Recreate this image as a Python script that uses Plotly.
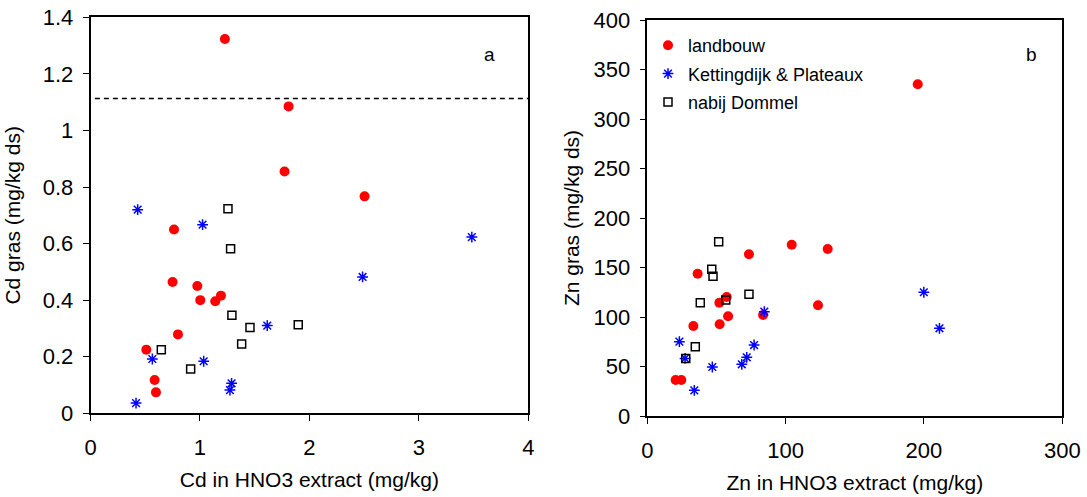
import plotly.graph_objects as go

# ---- data: panel a (Cd) ----
cd_land_x = [1.228, 1.81, 1.773, 2.504, 0.763, 0.750, 0.976, 1.192, 1.003, 1.140, 0.799, 0.510, 0.586, 0.598]
cd_land_y = [1.323, 1.085, 0.855, 0.767, 0.650, 0.464, 0.450, 0.416, 0.400, 0.396, 0.279, 0.225, 0.118, 0.074]
cd_ket_x = [0.431, 1.024, 3.484, 2.486, 1.615, 0.565, 1.034, 1.289, 1.274, 0.416]
cd_ket_y = [0.720, 0.667, 0.623, 0.482, 0.310, 0.192, 0.184, 0.106, 0.082, 0.036]
cd_dom_x = [1.256, 1.280, 1.292, 1.457, 1.898, 1.381, 0.647, 0.915]
cd_dom_y = [0.723, 0.582, 0.347, 0.303, 0.313, 0.245, 0.225, 0.157]
cd_limit = 1.113

# ---- data: panel b (Zn) ----
zn_land_x = [195.5, 104.4, 130.4, 73.5, 36.4, 57.4, 52.1, 123.4, 58.4, 83.7, 33.3, 52.3, 20.5, 24.6]
zn_land_y = [335.1, 173.0, 168.7, 163.3, 143.7, 120.2, 114.4, 111.8, 100.7, 102.0, 90.9, 92.6, 36.4, 36.4]
zn_ket_x = [199.9, 211.2, 84.6, 77.2, 23.2, 27.3, 71.9, 68.3, 47.0, 34.0]
zn_ket_y = [125.0, 88.6, 105.4, 71.7, 75.1, 58.2, 59.3, 52.2, 49.5, 25.9]
zn_dom_x = [51.6, 46.6, 47.5, 73.5, 56.7, 38.3, 34.7, 27.8]
zn_dom_y = [176.1, 148.2, 141.1, 122.9, 117.2, 114.4, 70.0, 58.2]

series_names = ["landbouw", "Kettingdijk & Plateaux", "nabij Dommel"]

FONT = "Liberation Sans, Arial, sans-serif"
W, H = 1087, 497


def fx(px):
    return px / W


def fy(py):
    return 1 - py / H


styles = [
    dict(symbol="circle", size=10, color="#ff0000", line=dict(width=0)),
    dict(symbol="asterisk-open", size=9, color="#0000ff", line=dict(width=1.5, color="#0000ff")),
    dict(symbol="square-open", size=8, color="#000000", line=dict(width=1.5, color="#000000")),
]

fig = go.Figure()
left = [(cd_land_x, cd_land_y), (cd_ket_x, cd_ket_y), (cd_dom_x, cd_dom_y)]
right = [(zn_land_x, zn_land_y), (zn_ket_x, zn_ket_y), (zn_dom_x, zn_dom_y)]
for i, (xs, ys) in enumerate(left):
    fig.add_trace(go.Scatter(x=xs, y=ys, mode="markers", marker=styles[i], name=series_names[i],
                             showlegend=False, xaxis="x", yaxis="y", legendgroup=series_names[i]))
for i, (xs, ys) in enumerate(right):
    fig.add_trace(go.Scatter(x=xs, y=ys, mode="markers", marker=styles[i], name=series_names[i],
                             showlegend=True, xaxis="x2", yaxis="y2", legendgroup=series_names[i]))

fig.add_shape(type="line", xref="x domain", yref="y", x0=0.01, x1=1, y0=cd_limit, y1=cd_limit,
              line=dict(color="black", width=1.3, dash="5px,4px"))

ax_common = dict(showgrid=False, zeroline=False, showline=True, linecolor="black", linewidth=1.5,
                 mirror=True, ticks="outside", ticklen=6, tickwidth=1, tickcolor="black",
                 tickfont=dict(family=FONT, size=22, color="black"), automargin=False,
                 ticklabeloverflow="allow")

fig.update_layout(
    width=W, height=H,
    margin=dict(l=0, r=0, t=0, b=0),
    paper_bgcolor="white", plot_bgcolor="white",
    font=dict(family=FONT, color="black"),
    xaxis=dict(domain=[fx(90.5), fx(528.3)], range=[0, 4], dtick=1, anchor="y",
               title=dict(text="Cd in HNO3 extract (mg/kg)", font=dict(size=21), standoff=13),
               ticklabelstandoff=8, **ax_common),
    yaxis=dict(domain=[fy(413.3), fy(17.3)], range=[0, 1.4], dtick=0.2, anchor="x",
               title=dict(text="Cd gras (mg/kg ds)", font=dict(size=21), standoff=16),
               ticklabelstandoff=5, **ax_common),
    xaxis2=dict(domain=[fx(647.3), fx(1062.3)], range=[0, 300], dtick=100, anchor="y2",
                title=dict(text="Zn in HNO3 extract (mg/kg)", font=dict(size=21), standoff=13),
                ticklabelstandoff=8, **ax_common),
    yaxis2=dict(domain=[fy(416), fy(20)], range=[0, 400], dtick=50, anchor="x2",
                title=dict(text="Zn gras (mg/kg ds)", font=dict(size=21), standoff=8),
                ticklabelstandoff=5, **ax_common),
    legend=dict(x=fx(648), y=fy(27), xanchor="left", yanchor="top",
                bgcolor="rgba(0,0,0,0)", font=dict(family=FONT, size=18, color="black"),
                tracegroupgap=2, itemwidth=30),
    annotations=[
        dict(text="a", x=fx(489), y=fy(54), xref="paper", yref="paper", showarrow=False,
             xanchor="center", yanchor="middle", font=dict(family=FONT, size=19, color="black")),
        dict(text="b", x=fx(1031), y=fy(54), xref="paper", yref="paper", showarrow=False,
             xanchor="center", yanchor="middle", font=dict(family=FONT, size=19, color="black")),
    ],
)

# remove the browser's default 8px body margin so the figure fills the window exactly
fig.write_html("out.html", config={"displayModeBar": False},
               post_script="document.body.style.margin='0';")
